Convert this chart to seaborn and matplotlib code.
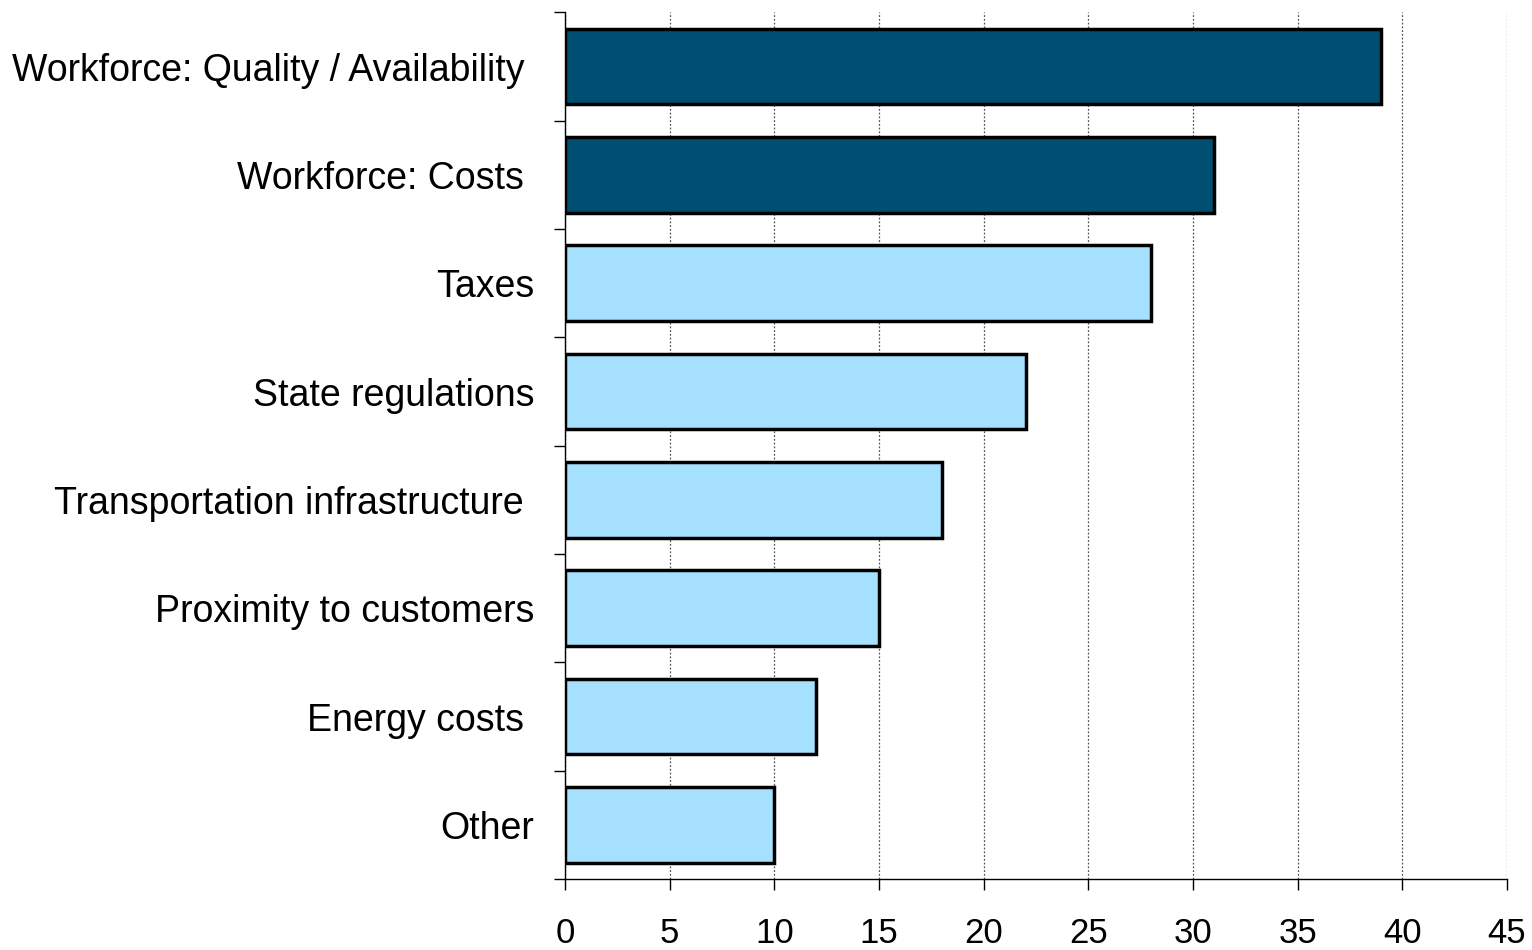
import numpy as np
import pandas as pd
import matplotlib
matplotlib.use("Agg")
import matplotlib.pyplot as plt
import seaborn as sns

# Chart values
factors = [
    "Workforce: Quality / Availability ",
    "Workforce: Costs ",
    "Taxes",
    "State regulations",
    "Transportation infrastructure ",
    "Proximity to customers",
    "Energy costs ",
    "Other",
]
scores = [39, 31, 28, 22, 18, 15, 12, 10]
group = ["workforce", "workforce", "other", "other", "other", "other", "other", "other"]
x_ticks = [0, 5, 10, 15, 20, 25, 30, 35, 40, 45]

df = pd.DataFrame({"factor": factors, "score": scores, "group": group})

sns.set_style("white")
plt.rcParams["font.family"] = ["Liberation Sans", "DejaVu Sans"]

fig = plt.figure(figsize=(15.32, 9.5), dpi=100)
ax = fig.add_axes([0.3688, 0.0747, 0.6149, 0.9123])

sns.barplot(
    data=df,
    x="score",
    y="factor",
    hue="group",
    palette={"workforce": "#004F73", "other": "#A6E0FF"},
    saturation=1,
    orient="h",
    width=0.7,
    dodge=False,
    edgecolor="black",
    linewidth=2.5,
    legend=False,
    ax=ax,
    zorder=3,
)

ax.set_xlim(0, 45)
ax.set_ylim(len(factors) - 0.5, -0.5)
ax.set_xticks(x_ticks)
ax.xaxis.grid(True, linestyle=(0, (1.5, 1.5)), color="#555555", linewidth=0.9, zorder=0)
ax.yaxis.grid(False)
ax.set_axisbelow(True)

# category boundary ticks on y axis
ax.set_yticks(np.arange(-0.5, len(factors), 1.0), minor=True)
ax.tick_params(axis="y", which="major", left=False, length=0, pad=22, labelsize=27,
               labelcolor="black")
ax.tick_params(axis="y", which="minor", left=True, length=8, width=1, color="black",
               direction="out")
ax.tick_params(axis="x", which="major", bottom=True, length=8, width=1, color="black",
               direction="out", pad=19, labelsize=25, labelcolor="black")

for s in ["top", "right"]:
    ax.spines[s].set_visible(False)
for s in ["left", "bottom"]:
    ax.spines[s].set_color("black")
    ax.spines[s].set_linewidth(1)

ax.set_xlabel("")
ax.set_ylabel("")

plt.savefig("out.png", dpi=100)
